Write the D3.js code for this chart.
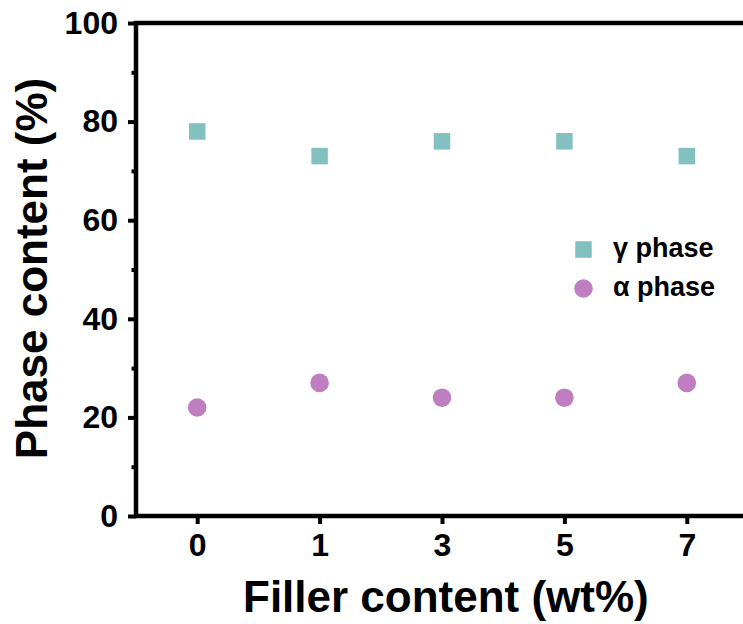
<!DOCTYPE html>
<html><head><meta charset="utf-8">
<script src="https://cdn.jsdelivr.net/npm/d3@7"></script>
<style>body{margin:0;background:#fff}svg{display:block}text{font-family:"Liberation Sans",Arial,sans-serif;font-weight:bold;fill:#000}</style>
</head><body>
<script>
const categories = ["0","1","3","5","7"];
const gammaPhase = [78,73,76,76,73];
const alphaPhase = [22,27,24,24,27];
const yTicks = [0,20,40,60,80,100];
const yMinorTicks = [10,30,50,70,90];
const seriesNames = ["γ phase","α phase"];
const colors = ["#82C1C0","#BF7EBF"];

(function(){
const W=743,H=624;
const svg=d3.select("body").append("svg").attr("width",W).attr("height",H);
const mLeft=136,mRight=748,mTop=23,mBottom=516;
const x=d3.scalePoint().domain(categories).range([mLeft,mRight]).padding(0.5);
const y=d3.scaleLinear().domain([0,100]).range([mBottom,mTop]);

const yAxis=svg.append("g").attr("transform",`translate(${mLeft},0)`)
  .call(d3.axisLeft(y).tickValues(yTicks).tickSize(8).tickPadding(10));
const yMinor=svg.append("g").attr("transform",`translate(${mLeft},0)`)
  .call(d3.axisLeft(y).tickValues(yMinorTicks).tickSize(4.5).tickFormat(""));
const xAxis=svg.append("g").attr("transform",`translate(0,${mBottom})`)
  .call(d3.axisBottom(x).tickSize(8).tickPadding(9));
[yAxis,yMinor,xAxis].forEach(g=>{
  g.select(".domain").remove();
  g.selectAll(".tick line").attr("stroke","#000").attr("stroke-width",4);
  g.selectAll(".tick text").style("font-size","32px").attr("fill","#000");
});
svg.append("line").attr("x1",mLeft).attr("x2",mLeft).attr("y1",mTop-2).attr("y2",mBottom+2).attr("stroke","#000").attr("stroke-width",4.5);
svg.append("line").attr("x1",mLeft-2).attr("x2",mRight).attr("y1",mBottom).attr("y2",mBottom).attr("stroke","#000").attr("stroke-width",4.5);
svg.append("line").attr("x1",mLeft-2).attr("x2",mRight).attr("y1",mTop).attr("y2",mTop).attr("stroke","#000").attr("stroke-width",4.5);

const sq=16.5;
svg.append("g").selectAll("rect").data(categories).join("rect")
  .attr("x",(d)=>x(d)-sq/2).attr("y",(d,i)=>y(gammaPhase[i])-sq/2)
  .attr("width",sq).attr("height",sq).attr("fill",colors[0]);
svg.append("g").selectAll("circle").data(categories).join("circle")
  .attr("cx",(d)=>x(d)).attr("cy",(d,i)=>y(alphaPhase[i]))
  .attr("r",9.3).attr("fill",colors[1]);

const lg=svg.append("g");
lg.append("rect").attr("x",583.5-sq/2).attr("y",249.5-sq/2).attr("width",sq).attr("height",sq).attr("fill",colors[0]);
lg.append("circle").attr("cx",583.5).attr("cy",288.5).attr("r",9.3).attr("fill",colors[1]);
lg.append("text").attr("x",613).attr("y",257).style("font-size","27px").text(seriesNames[0]);
lg.append("text").attr("x",613).attr("y",296).style("font-size","27px").text(seriesNames[1]);

svg.append("text").attr("x",243).attr("y",612).style("font-size","44px").text("Filler content (wt%)");
svg.append("text").attr("transform","translate(47,268.5) rotate(-90)").attr("text-anchor","middle").style("font-size","44px").text("Phase content (%)");
})();
</script>
</body></html>
